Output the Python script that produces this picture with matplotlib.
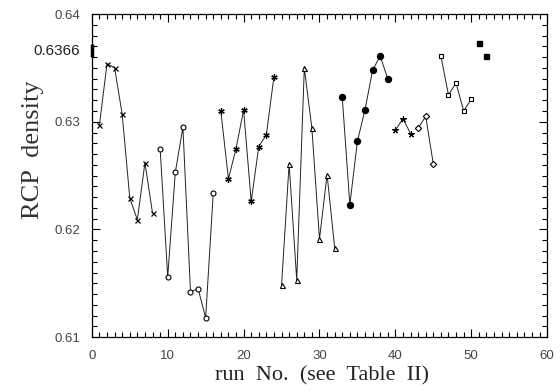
import numpy as np
import matplotlib
matplotlib.use('Agg')
from matplotlib import pyplot as plt
from matplotlib.ticker import MultipleLocator

# series (run No., RCP density)
run_x1 = [1, 2, 3, 4, 5, 6, 7, 8]
rcp_x1 = [0.6297, 0.6354, 0.6350, 0.6307, 0.6229, 0.6209, 0.6262, 0.6215]

run_o = [9, 10, 11, 12, 13, 14, 15, 16]
rcp_o = [0.6275, 0.6156, 0.6253, 0.6295, 0.6142, 0.6145, 0.6118, 0.6234]

run_star = [17, 18, 19, 20, 21, 22, 23, 24]
rcp_star = [0.6310, 0.6247, 0.6275, 0.6311, 0.6226, 0.6277, 0.6288, 0.6342]

run_tri = [25, 26, 27, 28, 29, 30, 31, 32]
rcp_tri = [0.6148, 0.6261, 0.6153, 0.6350, 0.6294, 0.6191, 0.6251, 0.6183]

run_dot = [33, 34, 35, 36, 37, 38, 39]
rcp_dot = [0.6323, 0.6223, 0.6282, 0.6311, 0.6348, 0.6361, 0.6340]

run_plus = [40, 41, 42]
rcp_plus = [0.6292, 0.6303, 0.6289]

run_dia = [43, 44, 45]
rcp_dia = [0.6294, 0.6305, 0.6261]

run_sq = [46, 47, 48, 49, 50]
rcp_sq = [0.6361, 0.6325, 0.6336, 0.6310, 0.6321]

run_fsq = [51, 52]
rcp_fsq = [0.6373, 0.6361]

rcp_limit = 0.6366

fig = plt.figure(figsize=(5.6, 3.92), dpi=100)
ax = fig.add_axes([0.164, 0.140, 0.813, 0.824])

lw = 0.7
ms = 3.6
lc = '#222222'
ax.plot(run_x1, rcp_x1, '-', color=lc, lw=lw, marker='x', ms=ms, mew=0.9, mec='k')
ax.plot(run_o, rcp_o, '-', color=lc, lw=lw, marker='o', ms=ms, mfc='white', mew=0.8, mec='k')
ax.plot(run_star, rcp_star, '-', color=lc, lw=lw, marker=(6, 2, 0), ms=ms + 1, mew=0.9, mec='k')
ax.plot(run_tri, rcp_tri, '-', color=lc, lw=lw, marker='^', ms=ms, mfc='white', mew=0.8, mec='k')
ax.plot(run_dot, rcp_dot, '-', color=lc, lw=lw, marker='o', ms=ms + 0.7, mfc='k', mec='k')
ax.plot(run_plus, rcp_plus, '-', color=lc, lw=lw, marker=(5, 2, 0), ms=ms + 1, mew=0.8, mec='k')
ax.plot(run_dia, rcp_dia, '-', color=lc, lw=lw, marker='D', ms=ms - 0.4, mfc='white', mew=0.8, mec='k')
ax.plot(run_sq, rcp_sq, '-', color=lc, lw=lw, marker='s', ms=ms - 0.4, mfc='white', mew=0.8, mec='k')
ax.plot(run_fsq, rcp_fsq, color='k', marker='s', ms=ms, mfc='k', linestyle='none')

ax.set_xlim(0, 60)
ax.set_ylim(0.61, 0.64)

ax.xaxis.set_major_locator(MultipleLocator(10))
ax.xaxis.set_minor_locator(MultipleLocator(1))
ax.set_yticks([0.61, 0.62, 0.63, 0.64])
ax.yaxis.set_minor_locator(MultipleLocator(0.001))
ax.set_yticklabels(['0.61', '0.62', '0.63', '0.64'])

ax.tick_params(which='both', direction='in', top=True, right=True,
               labelsize=9.5, width=0.8, colors='k', labelcolor='#444444')
ax.tick_params(axis='x', pad=9)
ax.tick_params(axis='y', pad=8)
ax.tick_params(which='major', length=6)
ax.tick_params(which='minor', length=3.5)
for lab in ax.get_xticklabels() + ax.get_yticklabels():
    lab.set_family('Liberation Sans')

# marked random close packing value on the left axis
ax.plot([0, 0], [rcp_limit - 0.0006, rcp_limit + 0.0006], color='k', lw=2.5,
        clip_on=False, solid_capstyle='butt')
ax.text(-1.6, rcp_limit, '0.6366', ha='right', va='center', fontsize=11,
        family='Liberation Sans', color='#222222')

for s in ax.spines.values():
    s.set_linewidth(0.9)

ax.set_xlabel('run  No.  (see  Table  II)', family='Liberation Serif', fontsize=16,
              color='#222222')
ax.xaxis.set_label_coords(0.505, -0.09)
ax.xaxis.label.set_va('top')
ax.set_ylabel('RCP  density', family='Liberation Serif', fontsize=19, color='#333333')
ax.yaxis.set_label_coords(-0.105, 0.58)

fig.savefig('out.png', dpi=100)
